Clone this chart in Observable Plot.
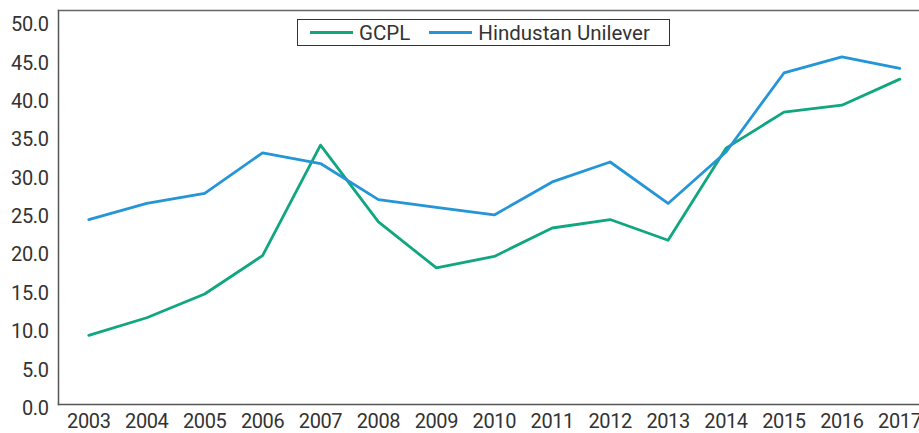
<!DOCTYPE html>
<html>
<head>
<meta charset="utf-8">
<script src="https://cdn.jsdelivr.net/npm/d3@7"></script>
<script src="https://cdn.jsdelivr.net/npm/@observablehq/plot@0.6"></script>
<style>
  html, body { margin: 0; padding: 0; background: #fff; overflow: hidden; }
  #chart { position: relative; width: 919px; height: 433px; }
  #chart svg text { letter-spacing: -0.4px; }
  #legend {
    position: absolute; left: 297px; top: 19px; width: 373px; height: 27px;
    box-sizing: border-box; border: 1px solid #333; background: #fff;
    display: flex; align-items: center; padding-left: 12px; white-space: nowrap;
    font-family: Roboto, sans-serif; font-size: 20.5px; color: #333; overflow: hidden;
  }
  #legend .sw { display: inline-block; width: 43px; height: 3px; margin-right: 6px; flex: none; }
  #legend .item { display: flex; align-items: center; margin-right: 19px; flex: none; white-space: nowrap; }
</style>
</head>
<body>
<div id="chart"></div>
<script>
const years = [2003, 2004, 2005, 2006, 2007, 2008, 2009, 2010, 2011, 2012, 2013, 2014, 2015, 2016, 2017];
const gcpl = [9.0, 11.3, 14.4, 19.4, 33.8, 23.8, 17.8, 19.3, 23.0, 24.1, 21.4, 33.4, 38.1, 39.0, 42.4];
const hul  = [24.1, 26.2, 27.5, 32.8, 31.4, 26.7, 25.7, 24.7, 29.0, 31.6, 26.2, 32.9, 43.2, 45.3, 43.8];
const seriesNames = ["GCPL", "Hindustan Unilever"];
const seriesColors = ["#10a67f", "#2495d6"];
const yTicks = [0, 5, 10, 15, 20, 25, 30, 35, 40, 45, 50];

const data = [
  ...years.map((year, i) => ({year, value: gcpl[i], series: seriesNames[0]})),
  ...years.map((year, i) => ({year, value: hul[i], series: seriesNames[1]}))
];

const chart = Plot.plot({
  width: 919,
  height: 433,
  marginLeft: 58,
  marginRight: 0,
  marginTop: 10,
  marginBottom: 29,
  style: {fontFamily: "Roboto, sans-serif", fontSize: "20px", color: "#333", background: "#fff"},
  x: {domain: [2002.477, 2017.34]},
  y: {domain: [0, 51.34]},
  color: {domain: seriesNames, range: seriesColors},
  marks: [
    Plot.frame({anchor: "left", stroke: "#555", strokeWidth: 1.5}),
    Plot.frame({anchor: "top", stroke: "#666", strokeWidth: 1.5}),
    Plot.frame({anchor: "bottom", stroke: "#555", strokeWidth: 1.5}),
    Plot.axisX({ticks: years, tickFormat: d => String(d), tickSize: 0, tickPadding: 9, label: null}),
    Plot.axisY({ticks: yTicks, tickFormat: d => d.toFixed(1), tickSize: 0, tickPadding: 10, dy: 4, label: null}),
    Plot.line(data, {x: "year", y: "value", z: "series", stroke: "series", strokeWidth: 2.8})
  ]
});

const container = document.getElementById("chart");
container.appendChild(chart);

const legend = document.createElement("div");
legend.id = "legend";
seriesNames.forEach((name, i) => {
  const item = document.createElement("span");
  item.className = "item";
  const sw = document.createElement("span");
  sw.className = "sw";
  sw.style.background = seriesColors[i];
  item.appendChild(sw);
  item.appendChild(document.createTextNode(name));
  legend.appendChild(item);
});
container.appendChild(legend);
</script>
</body>
</html>
